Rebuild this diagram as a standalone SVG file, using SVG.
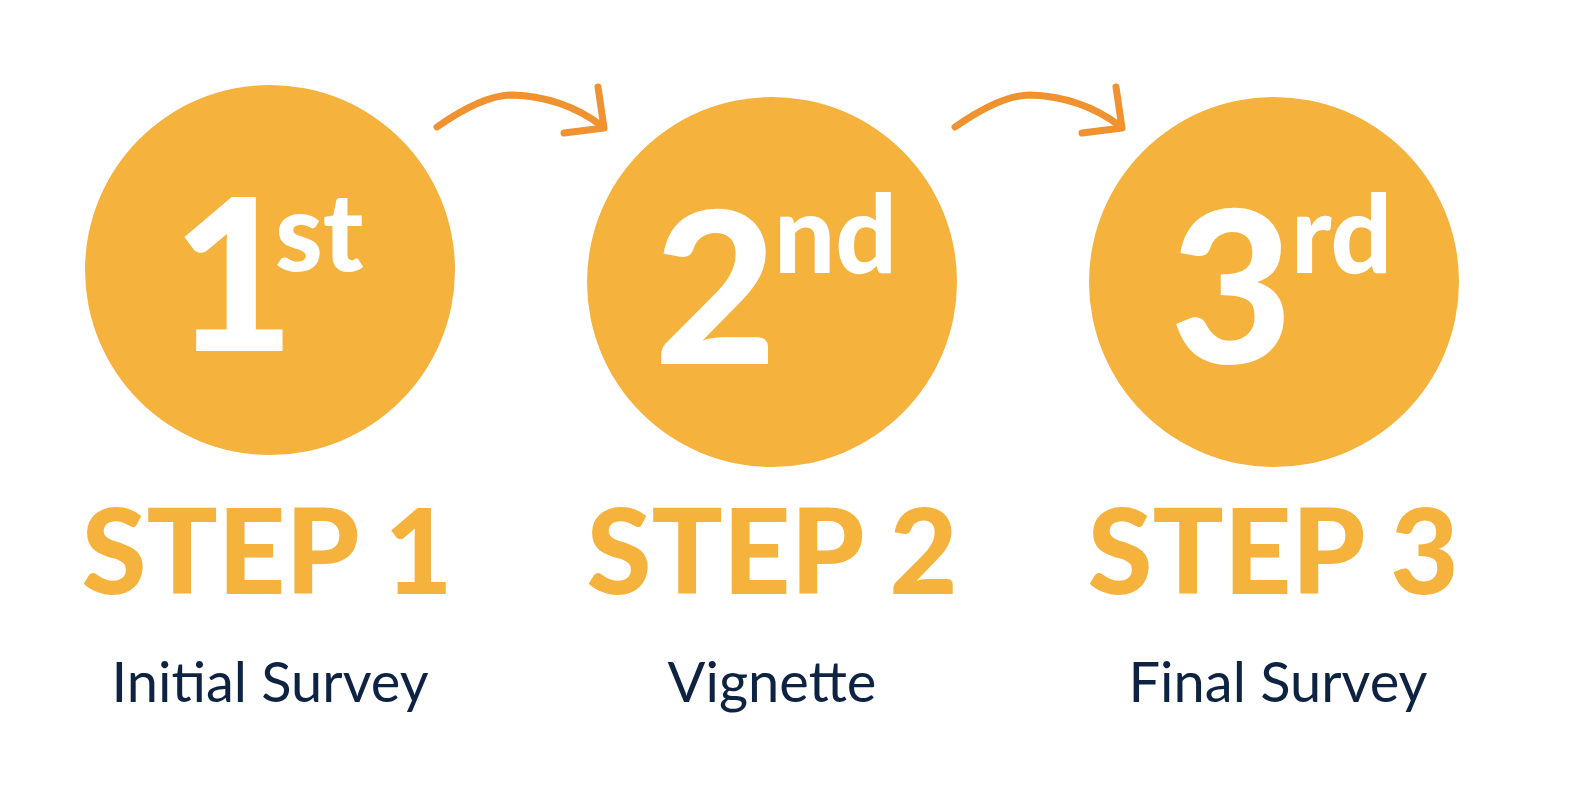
<svg xmlns="http://www.w3.org/2000/svg" width="1574" height="801" viewBox="0 0 1574 801">
<style>
.c{fill:#F5B23D}
.big{font-family:Lato,"Liberation Sans",sans-serif;font-weight:900;fill:#FFFFFF}
.sup{font-size:108px}
.num{font-size:212px}
.step{font-family:Lato,"Liberation Sans",sans-serif;font-weight:900;fill:#F5B23D;font-size:118px;text-anchor:middle}
.lab{font-family:Lato,"Liberation Sans",sans-serif;font-weight:400;fill:#0E2341;font-size:56px;text-anchor:middle}
.arr{fill:none;stroke:#F0922F;stroke-width:7;stroke-linecap:round;stroke-linejoin:round}
</style>
<rect width="1574" height="801" fill="#FFFFFF"/>
<g id="step1">
<circle class="c" cx="270" cy="270" r="185"/>
<text class="big num" x="172" y="351">1</text>
<text class="big sup" x="275" y="271">st</text>
<text class="step" x="267" y="594">STEP 1</text>
<text class="lab" x="270" y="702">Initial Survey</text>
</g>
<g id="step2">
<circle class="c" cx="772" cy="282" r="185"/>
<text class="big num" x="654" y="364">2</text>
<text class="big sup" x="774" y="273">nd</text>
<text class="step" x="772" y="594">STEP 2</text>
<text class="lab" x="772" y="702">Vignette</text>
</g>
<g id="step3">
<circle class="c" cx="1274" cy="282" r="185"/>
<text class="big num" x="1170" y="363">3</text>
<text class="big sup" x="1291" y="273">rd</text>
<text class="step" x="1273" y="594">STEP 3</text>
<text class="lab" x="1278" y="702">Final Survey</text>
</g>
<g id="connectors">
<path class="arr" d="M437,127 C467,106 492,95 512,95 C548,96 578,108 602,126"/>
<path class="arr" d="M598,87 L604,128 L564,133"/>
<path class="arr" d="M955,127 C985,106 1010,95 1030,95 C1066,96 1096,108 1120,126"/>
<path class="arr" d="M1116,87 L1122,128 L1082,133"/>
</g>
</svg>
